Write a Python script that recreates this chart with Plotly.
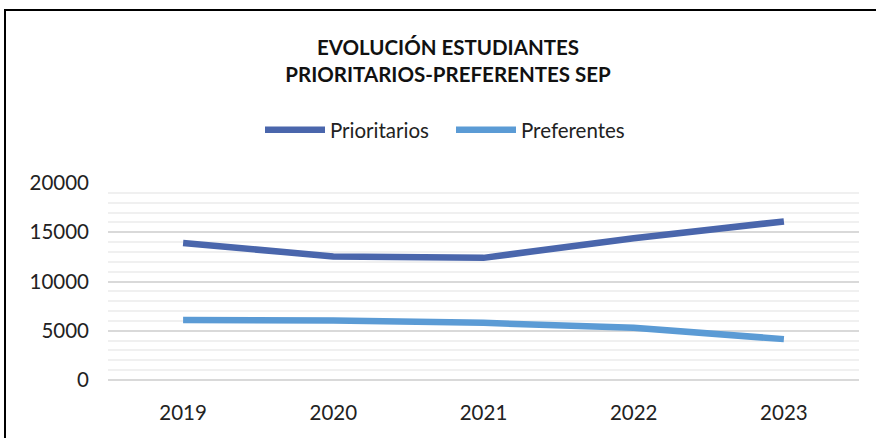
import plotly.graph_objects as go

years = ["2019", "2020", "2021", "2022", "2023"]
prioritarios = [13900, 12550, 12400, 14400, 16100]
preferentes = [6100, 6050, 5800, 5300, 4150]

W, H = 876, 438
ml, mr, mt, mb = 108, 17, 183, 58
pw, ph = W - ml - mr, H - mt - mb

fig = go.Figure()
fig.add_trace(go.Scatter(x=years, y=prioritarios, name="Prioritarios", mode="lines",
                         line=dict(color="#4A66AC", width=6.5)))
fig.add_trace(go.Scatter(x=years, y=preferentes, name="Preferentes", mode="lines",
                         line=dict(color="#5B9BD5", width=6.5)))

font = "Lato, 'Open Sans', sans-serif"
fig.update_layout(
    width=W, height=H,
    margin=dict(l=ml, r=mr, t=mt, b=mb, autoexpand=False),
    paper_bgcolor="white", plot_bgcolor="white",
    font=dict(family=font, size=20, color="#222"),
    title=dict(text="<b>EVOLUCIÓN ESTUDIANTES<br>PRIORITARIOS-PREFERENTES SEP</b>",
               x=448 / W, xanchor="center", y=1 - 55 / H, yanchor="middle",
               font=dict(size=20.5, color="#111", family=font)),
    legend=dict(orientation="h", x=(451 - ml) / pw, xanchor="center", y=(H - mb - 130) / ph,
                yanchor="middle", font=dict(size=20.5, color="#222"), bgcolor="rgba(0,0,0,0)",
                itemwidth=60, entrywidth=116, entrywidthmode="pixels"),
    xaxis=dict(showgrid=False, showline=False, ticks="", tickfont=dict(size=20.5),
               range=[-0.5, 4.5], ticklabelstandoff=18, automargin=False),
    yaxis=dict(range=[0, 20000], dtick=5000, tickformat="d", gridcolor="#D9D9D9", gridwidth=1.5,
               zeroline=True, zerolinecolor="#D9D9D9", zerolinewidth=1.5,
               tickfont=dict(size=20.5), ticklabelstandoff=18, automargin=False,
               minor=dict(dtick=1000, showgrid=True, gridcolor="#F0F0F0", gridwidth=1.5)),
    showlegend=True,
)

# outer chart border (left and top visible; right/bottom outside the view)
x0 = (5 - ml) / pw
x1 = (W + 10 - ml) / pw
y1 = (H - mb - 10) / ph
y0 = (H - mb - H - 10) / ph
fig.add_shape(type="rect", xref="paper", yref="paper", x0=x0, x1=x1, y0=y0, y1=y1,
              line=dict(color="black", width=2), layer="below")

fig.write_html("out.html", config={"displayModeBar": False},
               post_script="document.body.style.margin='0';")
